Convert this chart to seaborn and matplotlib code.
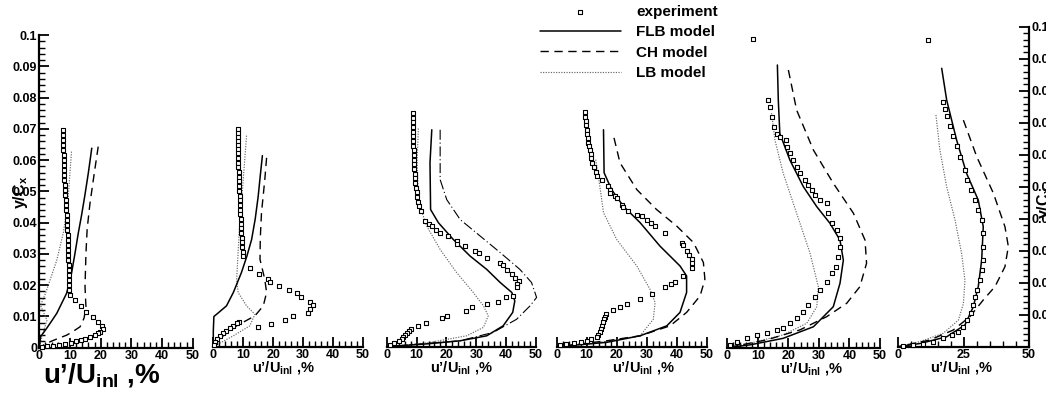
import numpy as np
import pandas as pd
import matplotlib
matplotlib.use("Agg")
import matplotlib.pyplot as plt
from matplotlib.ticker import MultipleLocator
import seaborn as sns

sns.set_theme(style="ticks", rc={"axes.edgecolor": "black", "text.color": "black",
                                 "xtick.color": "black", "ytick.color": "black",
                                 "axes.labelcolor": "black"})
plt.rcParams['font.family'] = ['Liberation Sans', 'DejaVu Sans']
plt.rcParams['mathtext.fontset'] = 'custom'
plt.rcParams['mathtext.rm'] = 'Liberation Sans'
plt.rcParams['mathtext.bf'] = 'Liberation Sans:bold'
plt.rcParams['mathtext.it'] = 'Liberation Sans:italic'

# ---------------- data ----------------
# Panel 1
exp1_u = [7.6, 7.7, 7.7, 7.8, 7.8, 7.9, 7.9, 8.0, 8.0, 8.1, 8.2, 8.3, 8.4, 8.5, 8.6, 8.7, 8.8, 8.9, 9.0, 9.1,
          9.1, 9.2, 9.3, 9.4, 9.4, 9.5, 9.5, 9.6, 9.6, 9.7, 9.7, 9.8, 9.8, 9.9,
          11.6, 13.6, 15.2, 17.4, 19.2, 20.5, 20.8, 19.8, 19.0, 18.0, 16.5, 15.0, 13.5, 12.0, 10.2, 8.5, 6.5,
          4.5, 2.5, 0.8]
exp1_y = [0.0696, 0.0680, 0.0664, 0.0648, 0.0632, 0.0616, 0.0600, 0.0584, 0.0568, 0.0552, 0.0536, 0.0520,
          0.0504, 0.0488, 0.0472, 0.0456, 0.0440, 0.0424, 0.0408, 0.0392, 0.0376, 0.0360, 0.0344, 0.0328,
          0.0312, 0.0296, 0.0280, 0.0264, 0.0248, 0.0232, 0.0216, 0.0200, 0.0184, 0.0170,
          0.0152, 0.0133, 0.0113, 0.0097, 0.0082, 0.0068, 0.0060, 0.0050, 0.0046, 0.0040, 0.0034, 0.0028,
          0.0024, 0.0020, 0.0016, 0.0013, 0.0010, 0.0007, 0.0004, 0.0001]
flb1_u = [17.1, 16.0, 14.9, 13.8, 12.7, 11.6, 10.5, 8.9, 7.2, 5.7, 4.0, 2.4, 0.4, 0.0]
flb1_y = [0.0638, 0.056, 0.049, 0.0425, 0.0366, 0.030, 0.0238, 0.0174, 0.014, 0.011, 0.0085, 0.0062, 0.0035, 0.0]
ch1_u = [19.2, 17.8, 16.5, 15.6, 15.2, 14.9, 15.2, 14.6, 13.3, 11.0, 8.9, 6.0, 3.5, 1.5, 0.0]
ch1_y = [0.0643, 0.055, 0.046, 0.038, 0.030, 0.0195, 0.0131, 0.0095, 0.0067, 0.0052, 0.0040, 0.0029, 0.0019,
         0.0009, 0.0]
lb1_u = [10.5, 10.0, 9.5, 8.8, 7.8, 5.7, 3.5, 1.8, 0.4, 1.5, 2.5, 1.0, 0.0]
lb1_y = [0.0627, 0.056, 0.049, 0.043, 0.0366, 0.028, 0.0216, 0.0168, 0.0136, 0.011, 0.0088, 0.004, 0.0]

# Panel 2
exp2_u = [8.1, 8.1, 8.1, 8.2, 8.2, 8.2, 8.3, 8.3, 8.4, 8.4, 8.5, 8.5, 8.6, 8.7, 8.7, 8.8, 8.8, 8.9, 8.9, 9.0,
          9.1, 9.2, 9.3, 9.4, 9.5, 9.6, 9.7, 9.8, 10.0,
          12.2, 15.3, 18.3, 19.0, 22.0, 25.3, 27.8, 29.4, 32.2, 33.3, 32.2, 31.7, 26.7, 23.9, 19.4, 15.0,
          8.7, 7.8, 6.7, 5.5, 4.4, 3.3, 2.2, 1.4, 0.6, 0.2]
exp2_y = [0.0698, 0.0685, 0.0672, 0.0659, 0.0646, 0.0633, 0.0620, 0.0605, 0.0590, 0.0575, 0.0560, 0.0545,
          0.0530, 0.0515, 0.0500, 0.0485, 0.0470, 0.0455, 0.0440, 0.0425, 0.0410, 0.0395, 0.0380, 0.0365,
          0.0350, 0.0335, 0.0320, 0.0305, 0.0290,
          0.0254, 0.0232, 0.0216, 0.0209, 0.0195, 0.0182, 0.0172, 0.0158, 0.0144, 0.0133, 0.0120, 0.0108,
          0.0097, 0.0086, 0.0072, 0.0062,
          0.0080, 0.0075, 0.0067, 0.0059, 0.0051, 0.0043, 0.0035, 0.0025, 0.0014, 0.0005]
flb2_u = [16.4, 15.7, 15.0, 14.0, 12.8, 11.2, 9.4, 6.7, 4.4, 1.1, 0.2, 0.0, 0.0]
flb2_y = [0.0613, 0.055, 0.0483, 0.041, 0.0344, 0.029, 0.0238, 0.0174, 0.0131, 0.0104, 0.0097, 0.005, 0.0]
ch2_u = [17.8, 17.2, 16.1, 15.7, 15.6, 17.2, 17.8, 16.7, 13.9, 7.8, 3.3, 0.0]
ch2_y = [0.0606, 0.0536, 0.043, 0.035, 0.028, 0.0216, 0.0174, 0.0131, 0.0099, 0.0067, 0.0035, 0.0]
lb2_u = [11.1, 10.0, 8.7, 7.8, 8.3, 11.1, 13.9, 12.2, 6.7, 0.0]
lb2_y = [0.0677, 0.0536, 0.0376, 0.0216, 0.0174, 0.0131, 0.0104, 0.0067, 0.0035, 0.0]

# Panel 3
exp3_u = [8.7, 8.7, 8.7, 8.8, 8.8, 8.8, 8.9, 8.9, 9.0, 9.0, 9.1, 9.2, 9.3, 9.4, 9.5, 9.6, 9.8, 10.0, 10.2,
          10.5, 10.9, 11.4,
          12.8, 14.2, 15.1, 16.5, 17.9, 20.6, 23.4, 23.4, 26.2, 29.6, 31.0, 33.5, 38.0, 39.0, 40.2, 41.9,
          43.0, 44.4, 43.8, 43.8, 42.4, 40.0, 37.4, 33.5, 28.5, 26.6, 20.3, 18.4, 13.2, 10.6,
          8.0, 7.4, 6.8, 6.2, 5.6, 5.0, 4.0, 2.5, 1.0]
exp3_y = [0.0750, 0.0735, 0.0720, 0.0705, 0.0690, 0.0675, 0.0660, 0.0645, 0.0630, 0.0615, 0.0600, 0.0585,
          0.0570, 0.0555, 0.0540, 0.0525, 0.0510, 0.0495, 0.0480, 0.0465, 0.0450, 0.0435,
          0.0403, 0.0395, 0.0387, 0.0375, 0.0366, 0.0355, 0.0339, 0.0330, 0.0323, 0.0307, 0.0300, 0.0286,
          0.0270, 0.0262, 0.0246, 0.0232, 0.0222, 0.0211, 0.0200, 0.0190, 0.0163, 0.0158, 0.0142, 0.0136,
          0.0126, 0.0115, 0.0099, 0.0091, 0.0076, 0.0065,
          0.0057, 0.0050, 0.0043, 0.0036, 0.0030, 0.0024, 0.0018, 0.0012, 0.0006]
flb3_u = [15.1, 14.5, 14.7, 17.3, 22.3, 27.9, 33.5, 38.0, 41.9, 42.9, 42.2, 39.0, 33.5, 24.6, 13.4, 0.0]
flb3_y = [0.0696, 0.059, 0.044, 0.0398, 0.0344, 0.0291, 0.0248, 0.0206, 0.0174, 0.0147, 0.011, 0.0067,
          0.0035, 0.0019, 0.0009, 0.0]
ch3_u = [17.9, 17.9, 20.1, 24.6, 31.3, 38.0, 44.6, 48.5, 50.2, 48.0, 43.5, 35.7, 24.6, 0.0]
ch3_y = [0.0696, 0.0536, 0.0472, 0.0408, 0.0355, 0.0302, 0.0248, 0.0206, 0.0158, 0.0131, 0.0088, 0.0046,
         0.0019, 0.0]
lb3_u = [10.6, 10.2, 10.5, 11.5, 13.4, 17.9, 23.4, 29.0, 32.4, 34.0, 32.4, 26.8, 13.4, 0.0]
lb3_y = [0.070, 0.060, 0.050, 0.044, 0.0387, 0.0312, 0.0238, 0.0174, 0.0131, 0.0099, 0.0062, 0.0035,
         0.0012, 0.0]

# Panel 4
exp4_u = [9.4, 9.5, 9.6, 9.8, 10.0, 10.2, 10.4, 10.5, 10.6, 11.0, 11.3, 11.5, 11.7, 12.3, 13.0, 13.3, 15.0,
          17.2, 17.8, 17.8, 19.5, 20.2, 21.7, 22.0, 23.9, 26.7, 28.5, 30.0, 31.5, 32.8, 36.1, 41.7, 42.0,
          43.3, 44.0, 45.0, 45.2, 45.0, 42.2, 39.4, 38.0, 36.1, 31.7, 27.8, 23.3, 21.1, 18.7, 16.4, 16.0,
          15.6, 15.3, 15.0, 14.7, 14.4, 13.8, 13.3, 11.5, 10.0, 8.0, 5.6, 3.0, 1.1]
exp4_y = [0.0752, 0.0738, 0.0724, 0.0710, 0.0696, 0.0682, 0.0668, 0.0655, 0.0643, 0.0630, 0.0617, 0.0604,
          0.0590, 0.0575, 0.0560, 0.0547, 0.0536,
          0.0515, 0.0504, 0.0494, 0.0485, 0.0478, 0.0456, 0.0448, 0.0435, 0.0424, 0.0418, 0.0408, 0.0398,
          0.0387, 0.0366, 0.0334, 0.0325, 0.0307, 0.0295, 0.0280, 0.0268, 0.0254, 0.0227, 0.0206, 0.0200,
          0.0190, 0.0168, 0.0152, 0.0136, 0.0126, 0.0118, 0.0104, 0.0096, 0.0088, 0.0078, 0.0067, 0.0056,
          0.0046, 0.0038, 0.0030, 0.0024, 0.0019, 0.0015, 0.0012, 0.0008, 0.0006]
flb4_u = [15.6, 15.8, 18.3, 22.2, 27.8, 34.4, 41.1, 43.3, 43.3, 41.1, 36.7, 27.8, 16.7, 0.0]
flb4_y = [0.0696, 0.0558, 0.0504, 0.0451, 0.0398, 0.0323, 0.0259, 0.0227, 0.0174, 0.011, 0.0067, 0.0035,
          0.0014, 0.0]
ch4_u = [19.1, 21.1, 26.7, 33.3, 40.0, 45.6, 48.9, 49.4, 47.8, 43.3, 37.8, 27.8, 16.7, 0.0]
ch4_y = [0.067, 0.059, 0.0504, 0.044, 0.0387, 0.0334, 0.027, 0.0216, 0.0163, 0.011, 0.0067, 0.0035,
         0.0019, 0.0]
lb4_u = [13.0, 13.9, 15.6, 20.0, 26.7, 31.1, 32.8, 32.2, 27.8, 11.1, 0.0]
lb4_y = [0.060, 0.0547, 0.043, 0.0344, 0.0259, 0.0184, 0.0142, 0.0088, 0.0035, 0.0009, 0.0]

# Panel 5
exp5_u = [13.4, 14.0, 14.5, 15.3, 16.2, 17.2, 19.2, 19.7, 20.5, 21.6, 22.7, 23.8, 25.4, 26.5, 27.6, 28.7,
          30.3, 32.5, 33.1, 34.2, 35.8, 36.9, 36.9, 36.4, 35.6, 34.2, 32.5, 30.3, 28.7, 26.5, 24.9, 22.7,
          20.5, 18.3, 16.2, 12.9, 9.6, 6.3, 3.1, 0.9, 8.5]
exp5_y = [0.0792, 0.0771, 0.0739, 0.0707, 0.0685, 0.0675, 0.0664, 0.0643, 0.0622, 0.0600, 0.0579, 0.0558,
          0.0536, 0.0520, 0.0504, 0.0488, 0.0472, 0.0462, 0.0430, 0.0398, 0.0376, 0.0350, 0.0323, 0.0291,
          0.0259, 0.0238, 0.0211, 0.0184, 0.0163, 0.0136, 0.0115, 0.0094, 0.0078, 0.0062, 0.0056, 0.0048,
          0.0041, 0.0030, 0.0019, 0.0009, 0.0986]
flb5_u = [16.4, 16.7, 17.2, 20.5, 24.9, 29.3, 33.6, 36.9, 38.0, 36.9, 34.7, 28.2, 18.3, 7.4, 0.0]
flb5_y = [0.0904, 0.0792, 0.0685, 0.060, 0.0515, 0.0451, 0.0398, 0.0344, 0.028, 0.0206, 0.0131, 0.0067,
          0.003, 0.0009, 0.0]
ch5_u = [20.0, 22.7, 28.2, 34.7, 41.3, 45.1, 45.6, 43.4, 39.1, 32.5, 23.8, 12.9, 0.0]
ch5_y = [0.0888, 0.076, 0.0632, 0.0526, 0.043, 0.0344, 0.027, 0.0195, 0.0142, 0.0099, 0.0057, 0.0025, 0.0]
lb5_u = [14.5, 15.6, 18.3, 22.7, 27.1, 29.8, 29.3, 26.0, 18.3, 7.4, 0.0]
lb5_y = [0.075, 0.0664, 0.0558, 0.043, 0.0302, 0.0195, 0.0131, 0.0078, 0.0041, 0.0014, 0.0]

# Panel 6
exp6_u = [17.2, 17.9, 18.5, 19.8, 21.0, 22.3, 23.6, 25.5, 26.4, 27.7, 29.3, 30.6, 31.9, 32.5, 32.5, 32.3,
          31.9, 31.3, 30.2, 29.3, 28.7, 27.7, 26.4, 24.6, 23.0, 20.4, 17.2, 13.4, 9.6, 5.7, 1.9, 11.5]
exp6_y = [0.0766, 0.0743, 0.0722, 0.0690, 0.0659, 0.0627, 0.0594, 0.0552, 0.0521, 0.0490, 0.0458, 0.0427,
          0.0396, 0.0354, 0.0313, 0.0271, 0.0240, 0.0208, 0.0177, 0.0156, 0.0130, 0.0104, 0.0083, 0.0063,
          0.0047, 0.0036, 0.0026, 0.0016, 0.0010, 0.0005, 0.0002, 0.0958]
flb6_u = [16.6, 18.5, 22.3, 26.1, 30.6, 32.5, 31.9, 30.6, 28.7, 25.5, 18.5, 8.3, 0.0]
flb6_y = [0.087, 0.0771, 0.0646, 0.0542, 0.0458, 0.0375, 0.0271, 0.0188, 0.0125, 0.0068, 0.0031, 0.001, 0.0]
ch6_u = [24.9, 30.0, 36.4, 40.8, 42.1, 40.8, 37.0, 32.5, 27.4, 21.0, 12.1, 0.0]
ch6_y = [0.0708, 0.0594, 0.0479, 0.0375, 0.0313, 0.025, 0.0188, 0.0146, 0.0094, 0.0052, 0.0021, 0.0]
lb6_u = [14.4, 15.9, 18.5, 21.7, 24.2, 25.5, 24.9, 23.0, 17.2, 8.3, 0.0]
lb6_y = [0.0724, 0.0615, 0.05, 0.0396, 0.0292, 0.0208, 0.0135, 0.0083, 0.0042, 0.0016, 0.0]

x_ticks = [0, 10, 20, 30, 40, 50]
x_ticks_last = [0, 25, 50]
y_ticks = [0, 0.01, 0.02, 0.03, 0.04, 0.05, 0.06, 0.07, 0.08, 0.09, 0.1]
y_tick_labels = ['0', '0.01', '0.02', '0.03', '0.04', '0.05', '0.06', '0.07', '0.08', '0.09', '0.1']
legend_labels = ['experiment', 'FLB model', 'CH model', 'LB model']
xlabel_text = "u’/U$_{\\mathbf{inl}}$ ,%"
ylabel_text = "y/C$_{\\mathbf{x}}$"

panels = [
    (exp1_u, exp1_y, flb1_u, flb1_y, ch1_u, ch1_y, lb1_u, lb1_y),
    (exp2_u, exp2_y, flb2_u, flb2_y, ch2_u, ch2_y, lb2_u, lb2_y),
    (exp3_u, exp3_y, flb3_u, flb3_y, ch3_u, ch3_y, lb3_u, lb3_y),
    (exp4_u, exp4_y, flb4_u, flb4_y, ch4_u, ch4_y, lb4_u, lb4_y),
    (exp5_u, exp5_y, flb5_u, flb5_y, ch5_u, ch5_y, lb5_u, lb5_y),
    (exp6_u, exp6_y, flb6_u, flb6_y, ch6_u, ch6_y, lb6_u, lb6_y),
]

# ---------------- layout ----------------
W, H = 1046, 393
fig = plt.figure(figsize=(W / 100, H / 100), dpi=100)

def rect(x0, x1, ytop, ybot):
    return [x0 / W, 1 - ybot / H, (x1 - x0) / W, (ybot - ytop) / H]

rects = [rect(39.3, 192.7, 35, 347.7), rect(213.3, 363, 35, 346.7), rect(386.7, 536, 35, 346.7),
         rect(556.7, 706.7, 35, 346.7), rect(727.3, 880, 35, 347.7), rect(898.3, 1029, 26.7, 346.7)]
xlabel_pos = [(0.41, -0.088), (0.47, -0.066), (0.50, -0.066), (0.58, -0.066), (0.55, -0.066), (0.48, -0.066)]

flb_style = dict(color='black', linewidth=1.1, linestyle='-')
ch_style = dict(color='black', linewidth=1.0, linestyle=(0, (6, 4)))
ch3_style = dict(color='black', linewidth=0.8, linestyle=(0, (9, 2.5, 1, 2.5)))
lb_style = dict(color='#666666', linewidth=0.85, linestyle=(0, (1, 1.2)))

axes = []
for i, (r, d) in enumerate(zip(rects, panels)):
    ax = fig.add_axes(r)
    axes.append(ax)
    eu, ey, fu, fy, cu, cy, lu, ly = d
    sns.lineplot(x=lu, y=ly, sort=False, estimator=None, ax=ax, clip_on=False,
                 label=legend_labels[3] if i == 0 else None, **lb_style)
    sns.lineplot(x=cu, y=cy, sort=False, estimator=None, ax=ax, clip_on=False,
                 label=legend_labels[2] if i == 0 else None, **(ch3_style if i == 2 else ch_style))
    sns.lineplot(x=fu, y=fy, sort=False, estimator=None, ax=ax, clip_on=False,
                 label=legend_labels[1] if i == 0 else None, **flb_style)
    sns.scatterplot(x=eu, y=ey, ax=ax, marker='s', s=11, color='white', edgecolor='black',
                    linewidth=0.8, zorder=5, clip_on=False,
                    label=legend_labels[0] if i == 0 else None)
    if ax.get_legend() is not None:
        ax.get_legend().remove()
    ax.set_xlim(0, 50)
    ax.set_ylim(0, 0.1)
    for s in ['top', 'right', 'left', 'bottom']:
        ax.spines[s].set_visible(False)
    ax.spines['bottom'].set_visible(True)
    ax.spines['bottom'].set_linewidth(1.6)
    last = (i == 5)
    ax.set_xticks(x_ticks_last if last else x_ticks)
    ax.xaxis.set_minor_locator(MultipleLocator(5 if last else 2))
    ax.tick_params(axis='x', which='major', direction='in', length=7, width=1.3, bottom=True, top=False,
                   labelsize=9, pad=1.5)
    ax.tick_params(axis='x', which='minor', direction='in', length=4.5, width=1.0, bottom=True, top=False)
    for t in ax.get_xticklabels():
        t.set_fontweight('bold')
    if i == 0 or last:
        side = 'left' if i == 0 else 'right'
        ax.spines[side].set_visible(True)
        ax.spines[side].set_linewidth(1.6)
        ax.set_yticks(y_ticks if i == 0 else y_ticks[1:])
        ax.set_yticklabels(y_tick_labels if i == 0 else y_tick_labels[1:])
        ax.yaxis.set_minor_locator(MultipleLocator(0.002))
        if last:
            ax.yaxis.tick_right()
        ax.tick_params(axis='y', which='major', direction='in', length=7, width=1.3,
                       left=(i == 0), right=last, labelleft=(i == 0), labelright=last,
                       labelsize=9, pad=1.5)
        ax.tick_params(axis='y', which='minor', direction='in', length=4.5, width=1.0,
                       left=(i == 0), right=last)
        for t in ax.get_yticklabels():
            t.set_fontweight('bold')
    else:
        ax.tick_params(axis='y', which='both', left=False, right=False, labelleft=False)
        ax.set_yticks([])
    ax.set_xlabel(xlabel_text, fontsize=(20 if i == 0 else 10.5), fontweight='bold')
    ax.xaxis.set_label_coords(*xlabel_pos[i])
    ax.xaxis.label.set_va('center')
    ax.set_ylabel('')

fig.text(21 / W, 1 - 192 / H, ylabel_text, rotation=90, ha='center', va='center',
         fontsize=11.5, fontweight='bold')
fig.text(1044 / W, 1 - 202 / H, ylabel_text, rotation=90, ha='center', va='center',
         fontsize=11.5, fontweight='bold')

# legend built from the first panel's artists
handles, labels = axes[0].get_legend_handles_labels()
order = [labels.index(l) for l in legend_labels]
fig.legend([handles[k] for k in order], [labels[k] for k in order],
           loc='upper left', bbox_to_anchor=(540 / W, 1 - 5 / H), frameon=False,
           prop={'weight': 'bold', 'size': 11}, handlelength=5.3, handletextpad=1.0,
           labelspacing=0.42, borderpad=0, borderaxespad=0, scatterpoints=1, markerscale=1.0)

fig.savefig('out.png', dpi=100)
